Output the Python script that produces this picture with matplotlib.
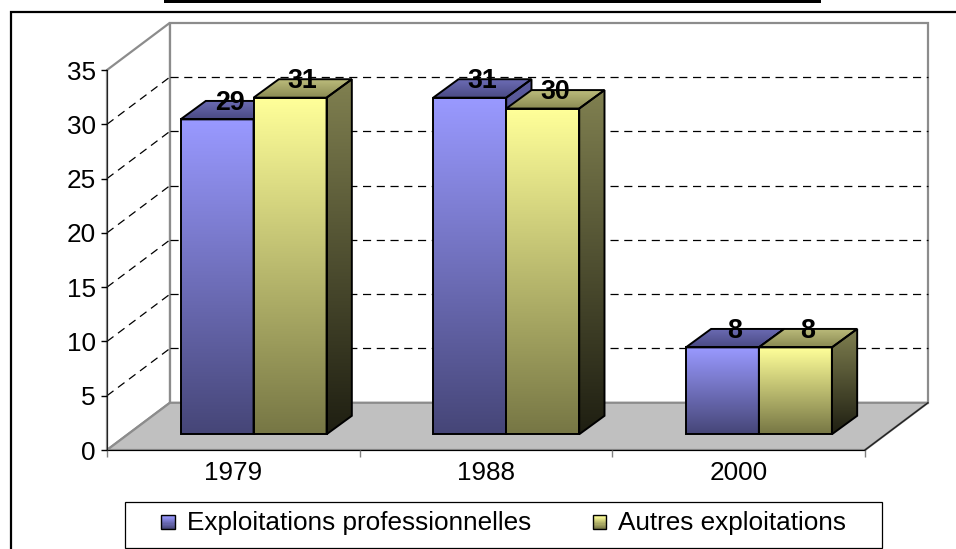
import numpy as np
import matplotlib
matplotlib.use("Agg")
import matplotlib.pyplot as plt
from matplotlib.patches import Polygon, Rectangle
from matplotlib.legend_handler import HandlerBase
from matplotlib.colors import to_rgb

years = ["1979", "1988", "2000"]
pro = [29, 31, 8]
autres = [31, 30, 8]
names = ["Exploitations professionnelles", "Autres exploitations"]
yticks = [0, 5, 10, 15, 20, 25, 30, 35]

plt.rcParams['font.family'] = ['Liberation Sans', 'DejaVu Sans']
FS = 18.8

W, H = 956, 549
fig = plt.figure(figsize=(W / 100, H / 100), dpi=100)
# axes = front plane of the 3d box
ax = fig.add_axes([107 / W, (H - 450) / H, 758 / W, 380 / H])
ax.set_xlim(-0.5, 2.5)
ax.set_ylim(0, 35)
ax.patch.set_visible(False)

dx, dy = 0.249, 4.35      # depth of floor / walls
bx, by = 0.08, 1.45       # where the bars stand
bdx, bdy = 0.1, 1.7       # depth of a bar
bw = 0.289

# colours (top, bottom) for front, top face, side
blue = {"front": ("#9999ff", "#464678"), "top": ("#6c6cb5", "#4a4a84"), "side": ("#5c5ca0", "#1c1c30")}
yellow = {"front": ("#ffff99", "#777745"), "top": ("#bcbc7c", "#8a8a52"), "side": ("#808050", "#1f1f12")}


def grad(patch, xs, ys, c_top, c_bot, z):
    t = np.linspace(0, 1, 64)[:, None]
    img = (1 - t) * np.array(to_rgb(c_bot)) + t * np.array(to_rgb(c_top))
    im = ax.imshow(img[:, None, :], extent=(min(xs), max(xs), min(ys), max(ys)),
                   origin="lower", aspect="auto", interpolation="bilinear", zorder=z)
    im.set_clip_path(patch)


def face(pts, cols, z):
    p = Polygon(pts, closed=True, facecolor="none", edgecolor="black", lw=1.4, zorder=z + 0.1)
    ax.add_patch(p)
    xs, ys = zip(*pts)
    grad(p, xs, ys, cols[0], cols[1], z)


# walls and floor
x0, x1, top = -0.5, 2.5, 35
ax.add_patch(Polygon([(x0 + dx, dy), (x1 + dx, dy), (x1 + dx, top + dy), (x0 + dx, top + dy)],
                     facecolor="white", edgecolor="#8c8c8c", lw=1.6, zorder=0.5, clip_on=False))
ax.add_patch(Polygon([(x0, 0), (x0 + dx, dy), (x0 + dx, top + dy), (x0, top)],
                     facecolor="white", edgecolor="#8c8c8c", lw=1.6, zorder=0.6, clip_on=False))
ax.add_patch(Polygon([(x0, 0), (x1, 0), (x1 + dx, dy), (x0 + dx, dy)],
                     facecolor="#c0c0c0", edgecolor="#8c8c8c", lw=1.6, zorder=0.7, clip_on=False))
ax.plot([x1, x1 + dx], [0, dy], color="#222222", lw=1.0, zorder=0.8, clip_on=False)

for v in yticks[1:-1]:
    ax.plot([x0 + dx, x1 + dx], [v + dy, v + dy], color="black", lw=0.9,
            dashes=(6.5, 4.5), zorder=1, clip_on=False)
    ax.plot([x0, x0 + dx], [v, v + dy], color="black", lw=0.9,
            dashes=(6.5, 4.5), zorder=1, clip_on=False)

# bars
xs = np.arange(len(years))
for k, (vals, cols) in enumerate([(pro, blue), (autres, yellow)]):
    lefts = xs - bw + bx + k * bw
    bars = ax.bar(lefts, vals, width=bw, bottom=by, align="edge",
                  facecolor="none", edgecolor="black", lw=1.4)
    for i, (b, h) in enumerate(zip(bars, vals)):
        z = 2 + i * 2 + k
        b.set_zorder(z + 0.1)
        l, r, t = lefts[i], lefts[i] + bw, by + h
        grad(b, [l, r], [by, t], cols["front"][0], cols["front"][1], z)
        face([(l, t), (r, t), (r + bdx, t + bdy), (l + bdx, t + bdy)], cols["top"], z)
        face([(r, by), (r + bdx, by + bdy), (r + bdx, t + bdy), (r, t)], cols["side"], z)
        ax.text(l + bw / 2 + bdx / 2, t + bdy / 2, str(h), ha="center", va="baseline",
                fontsize=FS + 0.5, fontweight="bold", zorder=10)

# axes, ticks
for s in ["top", "right"]:
    ax.spines[s].set_visible(False)
ax.spines["left"].set_color("#222222")
ax.spines["bottom"].set_color("black")
ax.spines["left"].set_zorder(1.2)
ax.spines["bottom"].set_zorder(1.2)
ax.set_yticks(yticks)
ax.tick_params(axis="y", direction="out", length=4, width=1, labelsize=FS, pad=4)
ax.set_xticks([-0.5, 0.5, 1.5, 2.5])
ax.set_xticklabels([])
ax.set_xticks(xs, minor=True)
ax.set_xticklabels(years, minor=True)
ax.tick_params(axis="x", which="major", direction="out", length=5, width=1, color="#808080")
ax.tick_params(axis="x", which="minor", length=0, labelsize=FS, pad=8)


class GradHandler(HandlerBase):
    def __init__(self, cols):
        super().__init__()
        self.cols = cols

    def create_artists(self, legend, orig_handle, xdescent, ydescent, width, height, fontsize, trans):
        s = 10.0
        ox = -xdescent + (width - s) / 2
        oy = -ydescent + (height - s) / 2 - 1.0
        n = 12
        c1, c2 = np.array(to_rgb(self.cols[0])), np.array(to_rgb(self.cols[1]))
        arts = []
        for j in range(n):
            f = j / (n - 1)
            arts.append(Rectangle((ox, oy + j * s / n), s, s / n + 0.05, facecolor=(1 - f) * c2 + f * c1,
                                  edgecolor="none", transform=trans))
        arts.append(Rectangle((ox, oy), s, s, facecolor="none", edgecolor="black", lw=1, transform=trans))
        return arts


h1 = Rectangle((0, 0), 1, 1)
h2 = Rectangle((0, 0), 1, 1)
fig.legend([h1, h2], names, loc="center left", bbox_to_anchor=(158 / W, 1 - 523 / H),
           ncol=2, frameon=False, borderpad=0, borderaxespad=0, fontsize=FS, handlelength=0.75,
           handletextpad=0.35, columnspacing=2.25,
           handler_map={h1: GradHandler(blue["front"]), h2: GradHandler(yellow["front"])})

# legend box, chart frame, top bar
fig.add_artist(Rectangle((125 / W, 1 - 548 / H), 757 / W, 46 / H, transform=fig.transFigure,
                         facecolor="none", edgecolor="black", lw=0.9))
fig.add_artist(Rectangle((11 / W, -0.1), 1.1, 1.1 - 12 / H, transform=fig.transFigure,
                         facecolor="none", edgecolor="black", lw=1.6))
fig.add_artist(Rectangle((164 / W, 1 - 3.3 / H), 657 / W, 0.1, transform=fig.transFigure,
                         facecolor="black", edgecolor="none"))

fig.savefig("out.png", dpi=100)
